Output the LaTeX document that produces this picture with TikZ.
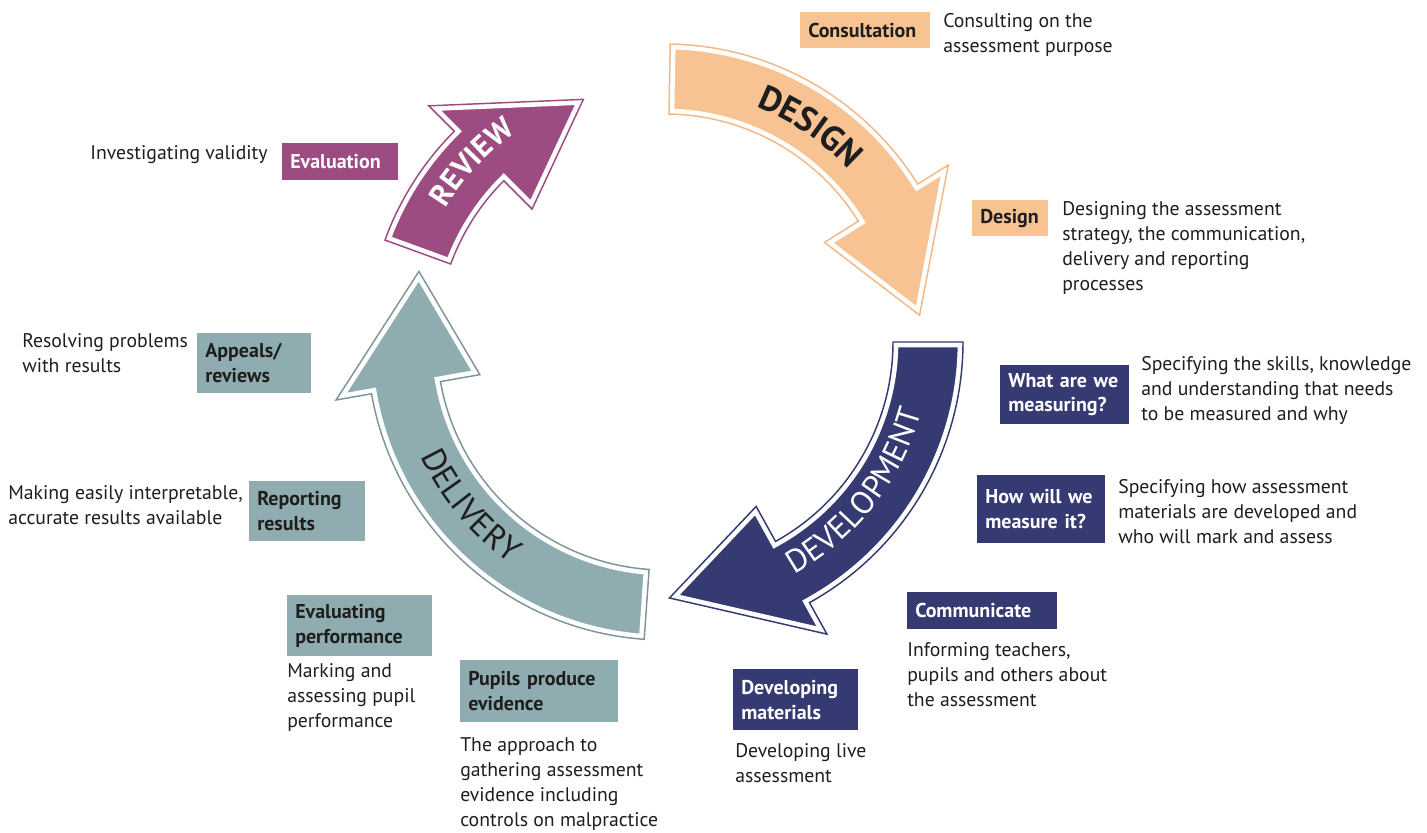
\documentclass[tikz,border=0pt]{standalone}
\usepackage{fontspec}
\setmainfont{PT Sans}
\usetikzlibrary{calc,decorations.text}
\definecolor{peach}{HTML}{F8C393}
\definecolor{peachline}{HTML}{F3B886}
\definecolor{navy}{HTML}{363A73}
\definecolor{teal}{HTML}{8FADB1}
\definecolor{tealline}{HTML}{7F9699}
\definecolor{plum}{HTML}{9C4C80}
\definecolor{ink}{HTML}{1E1E1E}
\newcommand\ringarrow[5]{%
  \def\arrowshape{($(C)+(#2:298)$) arc[start angle=#2,end angle=#3,radius=298]
    -- ($(C)+(#3:334)$) -- ($(C)+(#4:256)$) -- ($(C)+(#3:188)$)
    -- ($(C)+(#3:228)$) arc[start angle=#3,end angle=#2,radius=228] -- cycle}%
  \begin{scope}
    \clip \arrowshape;
    \fill[#1] \arrowshape;
    \draw[white,line width=8pt] \arrowshape;
  \end{scope}
  \draw[#5,line width=1.1pt] \arrowshape;
}
\tikzset{
  lbox/.style={anchor=north west, inner xsep=6pt, inner ysep=0pt, align=left,
    font=\fontsize{15}{18.5}\selectfont\bfseries},
  desc/.style={anchor=north west, inner sep=0pt, align=left, text=ink,
    font=\fontsize{14.8}{18.75}\selectfont},
  ringtext/.style={decorate, decoration={text along path, text align=center, text color=#1}}
}
\begin{document}
\begin{tikzpicture}[x=0.75pt,y=-0.75pt]
\useasboundingbox (0,0) rectangle (1427,832);
\coordinate (C) at (665,342);

% arrows
\ringarrow{peach}{-89}{-32}{-6}{peachline}
\ringarrow{navy}{0}{61}{89}{navy}
\ringarrow{teal}{94}{170}{196}{tealline}
\ringarrow{plum}{200}{225}{251.4}{plum}

% ring texts
\path[ringtext=ink, decoration={text={|\fontsize{26}{26}\selectfont\bfseries|DESIGN}}]
  ($(C)+(-86:252)$) arc[start angle=-86,end angle=-26,radius=252];
\path[ringtext=white, decoration={text={|\fontsize{24}{24}\selectfont|DEVELOPMENT}}]
  ($(C)+(75:266)$) arc[start angle=75,end angle=1,radius=266];
\path[ringtext=ink, decoration={text={|\fontsize{25}{25}\selectfont|DELIVERY}}]
  ($(C)+(175:270)$) arc[start angle=175,end angle=105,radius=270];
\path[ringtext=white, decoration={text={|\fontsize{23}{23}\selectfont\bfseries|REVIEW}}]
  ($(C)+(195:257)$) arc[start angle=195,end angle=251,radius=257];

% DESIGN labels
\node[lbox, fill=peach, text=ink, minimum height=27pt, text width=85.5pt] (cons) at (800,12) {Consultation};
\node[desc] (consd) at (943,13) {Consulting on the\\assessment purpose};
\node[lbox, fill=peach, text=ink, minimum height=27pt, text width=45pt] (des) at (972,200) {Design};
\node[desc] (desd) at (1062,201) {Designing the assessment\\strategy, the communication,\\delivery and reporting\\processes};

% DEVELOPMENT labels
\node[lbox, fill=navy, text=white, minimum height=44.25pt, text width=84.75pt] (what) at (1000,365) {What~are~we\\measuring?};
\node[desc] (whatd) at (1141,356) {Specifying the skills, knowledge\\and understanding that needs\\to be measured and why};
\node[lbox, fill=navy, text=white, minimum height=51pt, text width=84pt] (how) at (977,475) {How~will~we\\measure~it?};
\node[desc] (howd) at (1118,479) {Specifying how assessment\\materials are developed and\\who will mark and assess};
\node[lbox, fill=navy, text=white, minimum height=27.75pt, text width=100.5pt] (comm) at (907,592) {Communicate};
\node[desc] (commd) at (907,642) {Informing teachers,\\pupils and others about\\the assessment};
\node[lbox, fill=navy, text=white, minimum height=45.75pt, text width=81.75pt] (devm) at (733,669) {Developing\\materials};
\node[desc] (devmd) at (735,743) {Developing live\\assessment};

% DELIVERY labels
\node[lbox, fill=teal, text=ink, minimum height=46.5pt, text width=106.5pt] (pup) at (460,660) {Pupils~produce\\evidence};
\node[desc] (pupd) at (460,737) {The approach to\\gathering assessment\\evidence including\\controls on malpractice};
\node[lbox, fill=teal, text=ink, minimum height=45.75pt, text width=96.75pt] (evp) at (287,595) {Evaluating\\performance};
\node[desc] (evpd) at (287,663) {Marking and\\assessing pupil\\performance};
\node[lbox, fill=teal, text=ink, minimum height=45pt, text width=75pt] (rep) at (249,481) {Reporting\\results};
\node[desc] (repd) at (8,485) {Making easily interpretable,\\accurate results available};
\node[lbox, fill=teal, text=ink, minimum height=45pt, text width=73.5pt] (app) at (197,333) {Appeals/\\reviews};
\node[desc] (appd) at (22,333) {Resolving problems\\with results};

% REVIEW labels
\node[lbox, fill=plum, text=white, minimum height=27.75pt, text width=75pt] (eval) at (282,143) {Evaluation};
\node[desc] (evald) at (90,145) {Investigating validity};
\end{tikzpicture}
\end{document}
